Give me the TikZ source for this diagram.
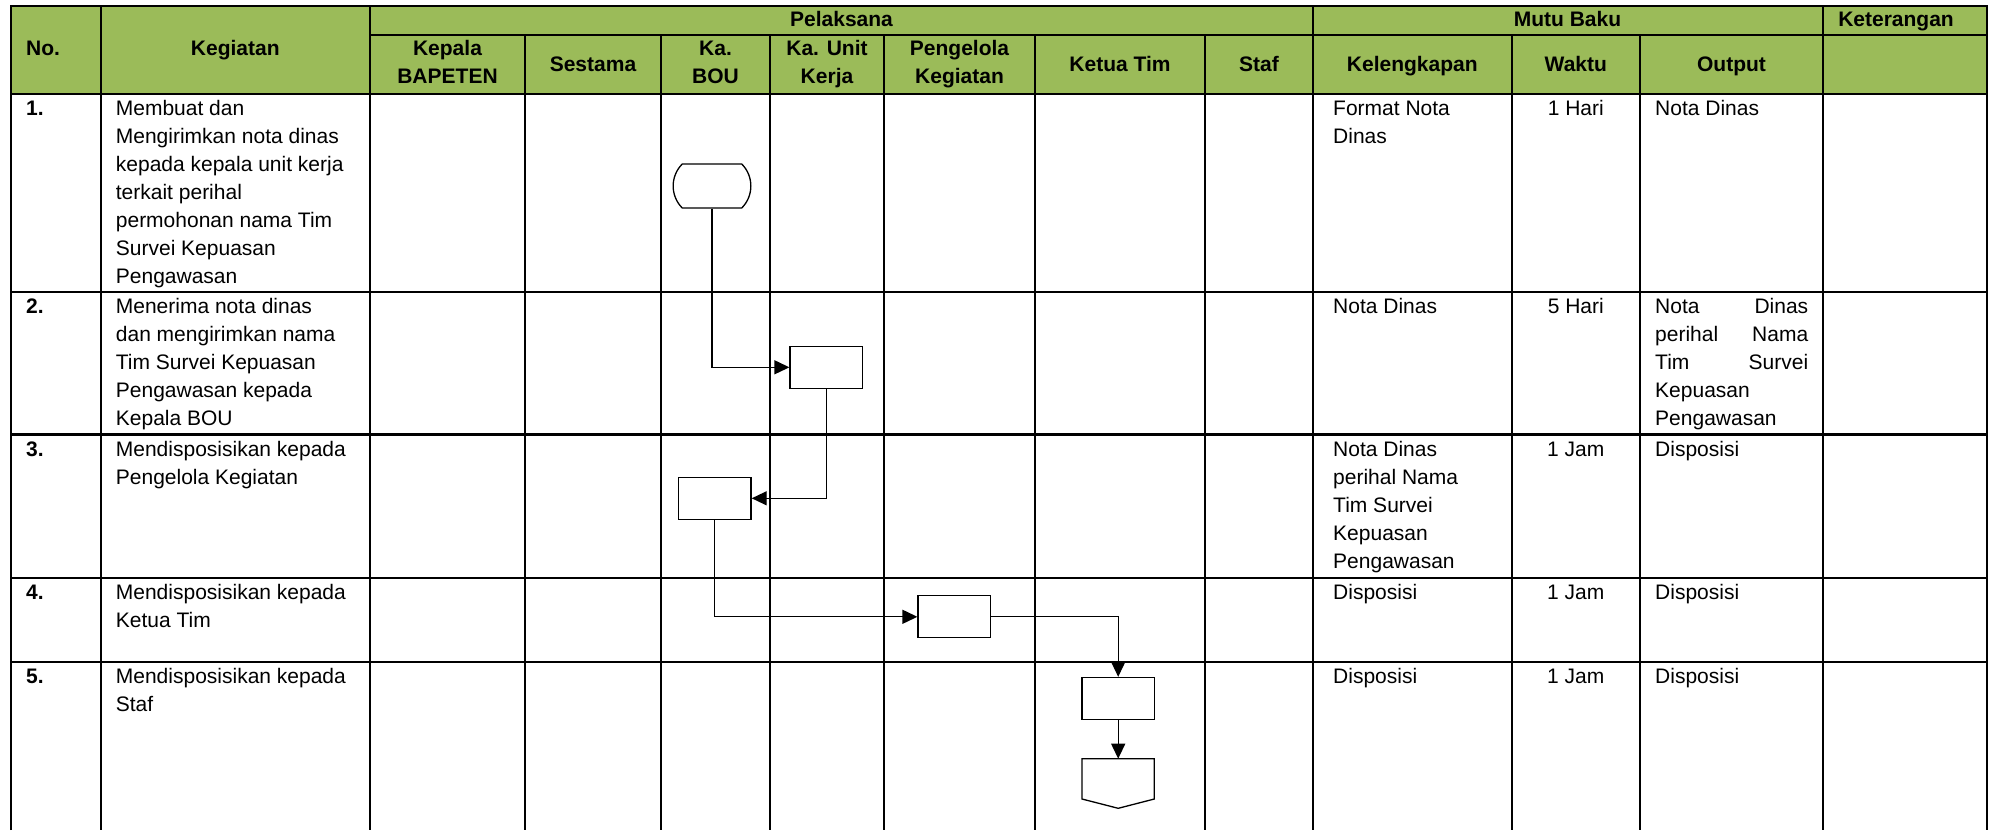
\documentclass[tikz,border=0pt]{standalone}
\usepackage{fontspec}
\setmainfont{Liberation Sans}
\usetikzlibrary{arrows.meta,shapes.misc}
\definecolor{hdrgreen}{HTML}{9BBB59}
\newcommand{\cellt}[1]{\begin{tabular}[t]{@{}l@{}}#1\end{tabular}}
\newcommand{\cellc}[1]{\begin{tabular}[t]{@{}c@{}}#1\end{tabular}}
\renewcommand{\arraystretch}{1}
\newcommand{\jst}[1]{\makebox[153pt][s]{#1}}
\begin{document}
\begin{tikzpicture}[x=1pt,y=-1pt,
  grid/.style={line width=2.2pt},
  body/.style={anchor=base west,inner sep=0pt,font=\fontsize{21}{28}\selectfont},
  bodyc/.style={anchor=base,inner sep=0pt,font=\fontsize{21}{28}\selectfont},
  num/.style={anchor=base west,inner sep=0pt,font=\fontsize{21}{28}\selectfont\bfseries},
  hd/.style={anchor=base,inner sep=0pt,font=\fontsize{21}{28}\selectfont\bfseries},
  proc/.style={draw,line width=1.3pt,minimum width=72.5pt,minimum height=42pt,inner sep=0pt},
  flow/.style={line width=1.3pt,-{Triangle[length=15pt,width=14pt]}}]
\useasboundingbox (0,0) rectangle (1991,830);
% header fill
\fill[hdrgreen] (11,6) rectangle (1987,94);
% grid
\draw[grid] (11,830) -- (11,6) -- (1987,6) -- (1987,830);
\draw[grid] (370,35) -- (1987,35);
\foreach \yy in {94,292,434.5,577.7,662} \draw[grid] (11,\yy) -- (1987,\yy);
\foreach \xx in {100.7,370,1313,1823} \draw[grid] (\xx,6) -- (\xx,830);
\foreach \xx in {525,661,770,884,1035,1205,1511.7,1640} \draw[grid] (\xx,35) -- (\xx,830);
% header texts
\node[hd,anchor=base west] (hNo) at (26,55) {No.};
\node[hd] (hKeg) at (235.3,55) {Kegiatan};
\node[hd] (hPel) at (841.5,26.7) {Pelaksana};
\node[hd] (hMutu) at (1567.5,26.7) {Mutu Baku};
\node[hd] (hKet) at (1896,26.7) {Keterangan};
\node[hd] (hKB) at (447.5,55) {\cellc{Kepala\\BAPETEN}};
\node[hd] (hSes) at (593,71.5) {Sestama};
\node[hd] (hBOU) at (715.5,55) {\cellc{Ka.\\BOU}};
\node[hd] (hUnit) at (827,55) {\cellc{Ka. Unit\\Kerja}};
\node[hd] (hPK) at (959.5,55) {\cellc{Pengelola\\Kegiatan}};
\node[hd] (hKT) at (1120,71.5) {Ketua Tim};
\node[hd] (hStaf) at (1259,71.5) {Staf};
\node[hd] (hKel) at (1412.3,71.5) {Kelengkapan};
\node[hd] (hWak) at (1575.8,71.5) {Waktu};
\node[hd] (hOut) at (1731.5,71.5) {Output};
% row 1
\node[num] (n1) at (26,115.5) {1.};
\node[body] (k1) at (115.7,115.5) {\cellt{Membuat dan\\Mengirimkan nota dinas\\kepada kepala unit kerja\\terkait perihal\\permohonan nama Tim\\Survei Kepuasan\\Pengawasan}};
\node[body] (l1) at (1333,115.5) {\cellt{Format Nota\\Dinas}};
\node[bodyc] (w1) at (1575.8,115.5) {1 Hari};
\node[body] (o1) at (1655,115.5) {Nota Dinas};
% row 2
\node[num] (n2) at (26,313.5) {2.};
\node[body] (k2) at (115.7,313.5) {\cellt{Menerima nota dinas\\dan mengirimkan nama\\Tim Survei Kepuasan\\Pengawasan kepada\\Kepala BOU}};
\node[body] (l2) at (1333,313.5) {Nota Dinas};
\node[bodyc] (w2) at (1575.8,313.5) {5 Hari};
\node[body] (o2) at (1655,313.5) {\cellt{\jst{Nota Dinas}\\\jst{perihal Nama}\\\jst{Tim Survei}\\Kepuasan\\Pengawasan}};
% row 3
\node[num] (n3) at (26,456) {3.};
\node[body] (k3) at (115.7,456) {\cellt{Mendisposisikan kepada\\Pengelola Kegiatan}};
\node[body] (l3) at (1333,456) {\cellt{Nota Dinas\\perihal Nama\\Tim Survei\\Kepuasan\\Pengawasan}};
\node[bodyc] (w3) at (1575.8,456) {1 Jam};
\node[body] (o3) at (1655,456) {Disposisi};
% row 4
\node[num] (n4) at (26,599) {4.};
\node[body] (k4) at (115.7,599) {\cellt{Mendisposisikan kepada\\Ketua Tim}};
\node[body] (l4) at (1333,599) {Disposisi};
\node[bodyc] (w4) at (1575.8,599) {1 Jam};
\node[body] (o4) at (1655,599) {Disposisi};
% row 5
\node[num] (n5) at (26,683.5) {5.};
\node[body] (k5) at (115.7,683.5) {\cellt{Mendisposisikan kepada\\Staf}};
\node[body] (l5) at (1333,683.5) {Disposisi};
\node[bodyc] (w5) at (1575.8,683.5) {1 Jam};
\node[body] (o5) at (1655,683.5) {Disposisi};
% flowchart
\node[draw,line width=1.3pt,rounded rectangle,rounded rectangle arc length=90,minimum width=77.7pt,minimum height=44pt,inner sep=0pt] (term) at (712,186) {};
\node[proc] (b2) at (826.3,367.3) {};
\node[proc] (b3) at (714.8,498.3) {};
\node[proc] (b4) at (954.3,616.8) {};
\node[proc] (b5) at (1118.2,698.5) {};
\coordinate (off) at (1118.2,758.7);
\draw[line width=1.3pt,line join=miter] (1082,758.7) -- (1154.3,758.7) -- (1154.3,799) -- (1118.2,808.3) -- (1082,799) -- cycle;
\draw[flow] (term.south) |- (b2.west);
\draw[flow] (b2.south) |- (b3.east);
\draw[flow] (b3.south) |- (b4.west);
\draw[flow] (b4.east) -| (b5.north);
\draw[flow] (b5.south) -- (off);
\end{tikzpicture}
\end{document}
